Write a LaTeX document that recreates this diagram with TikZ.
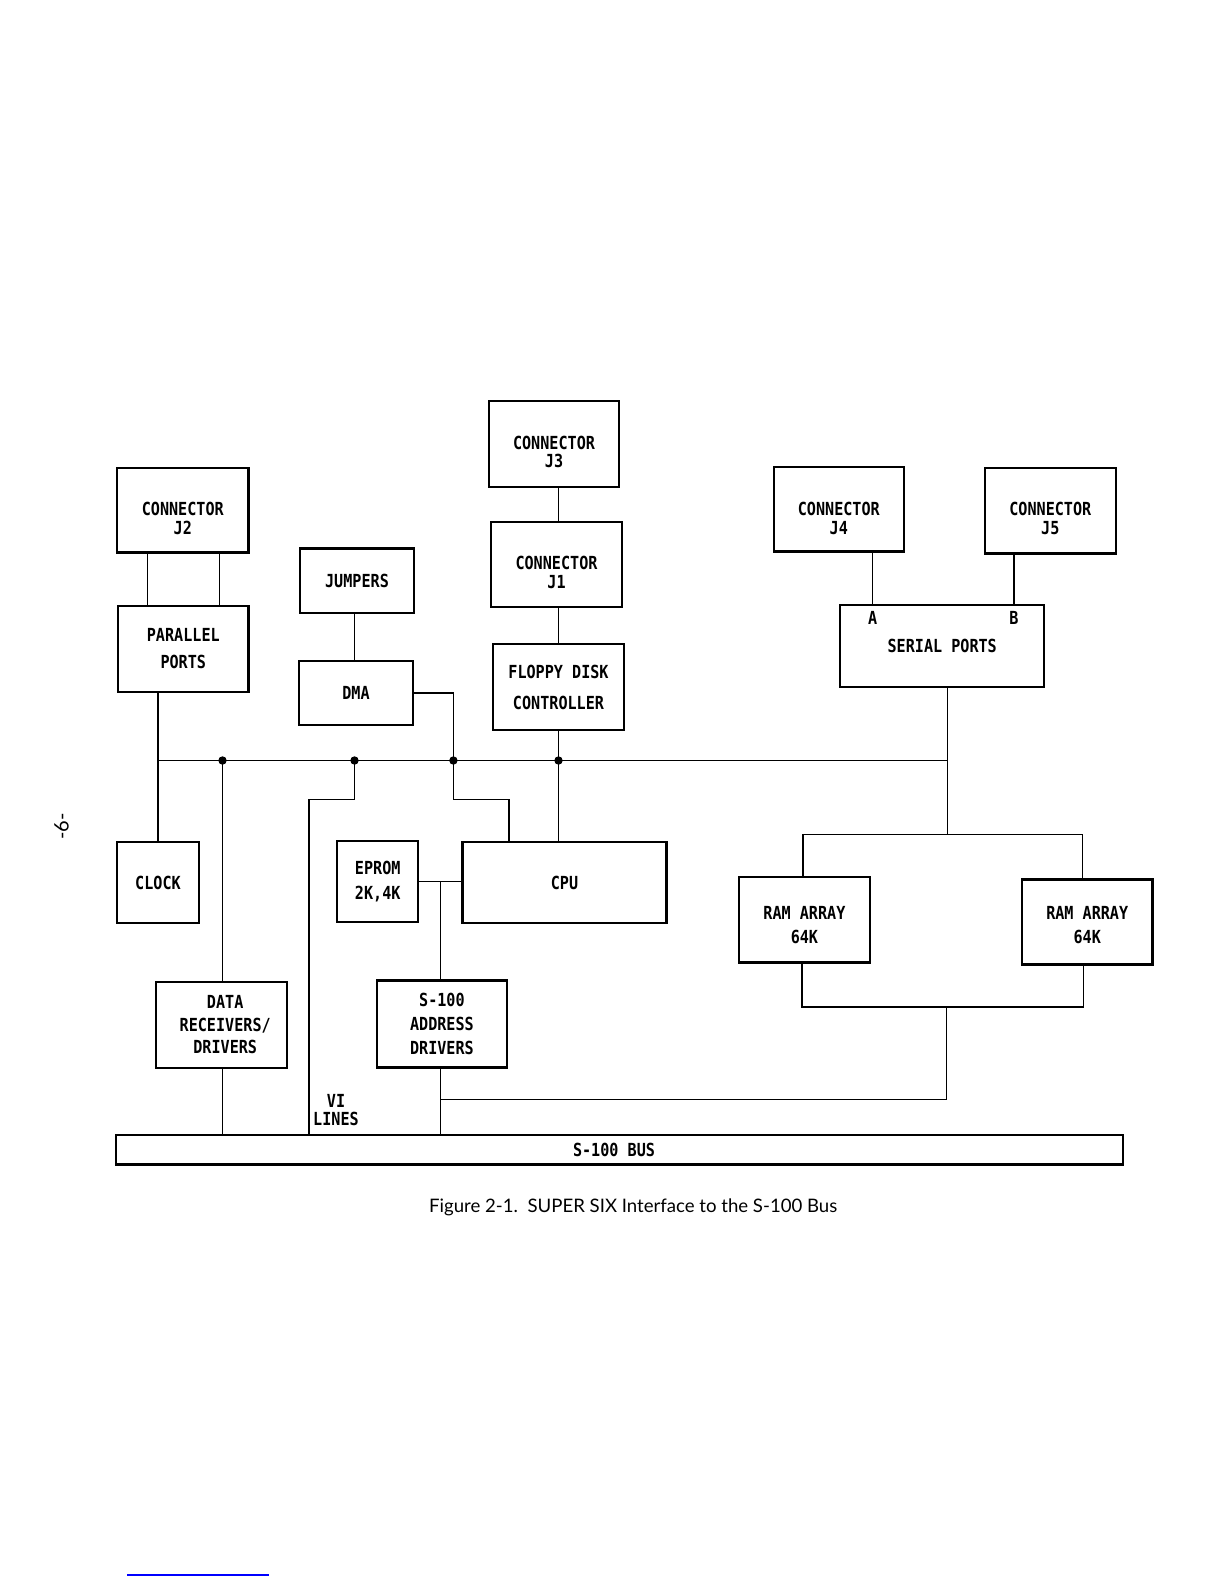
\documentclass[tikz,border=0pt]{standalone}
\usepackage{fontspec}
\setmainfont{Lato}
\newfontfamily\lett[FakeStretch=0.84]{DejaVu Sans Mono Bold}
\newfontfamily\capfont{Lato}
\newcommand\lowr[1]{\rule{0pt}{#1}}
\begin{document}
\begin{tikzpicture}[x=0.5pt,y=-0.5pt,
  box/.style={draw, line width=1.1pt, inner sep=0pt, align=center,
    font=\lett\fontsize{9}{9.4}\selectfont},
  wire/.style={line width=0.6pt},
  lbl/.style={inner sep=0pt, align=center, font=\lett\fontsize{9}{9.1}\selectfont}]

\useasboundingbox[fill=white] (0,0) rectangle (1224,1584);

% ---------- boxes ----------
\node[box, minimum width=65.2pt, minimum height=43pt]   (j3)  at (554,443.9)   {\lowr{14.8pt}CONNECTOR\\J3};
\node[box, minimum width=65.6pt, minimum height=42.4pt] (j2)  at (182.8,510)   {\lowr{14.8pt}CONNECTOR\\J2};
\node[box, minimum width=65.6pt, minimum height=42.4pt] (j1)  at (556.5,564.5) {\lowr{14.8pt}CONNECTOR\\J1};
\node[box, minimum width=57.1pt, minimum height=32.3pt] (jmp) at (357,580.7)   {JUMPERS};
\node[box, minimum width=65.1pt, minimum height=43pt]   (par) at (183.3,648.9) {PARALLEL\\[4.25pt]PORTS};
\node[box, minimum width=57pt,   minimum height=32pt]   (dma) at (356,693)     {DMA};
\node[box, minimum width=65.6pt, minimum height=43pt]   (fdc) at (558.5,687.3) {FLOPPY DISK\\[6.25pt]CONTROLLER};
\node[box, minimum width=65.2pt, minimum height=42.4pt] (j4)  at (838.8,509)   {\lowr{15.8pt}CONNECTOR\\J4};
\node[box, minimum width=65.6pt, minimum height=42.9pt] (j5)  at (1050.3,510.5){\lowr{14.8pt}CONNECTOR\\J5};
\node[box, minimum width=102pt,  minimum height=40.9pt] (ser) at (942.2,645.8) {SERIAL PORTS};
\node[box, minimum width=40.9pt, minimum height=40.4pt] (clk) at (158,882.7)   {CLOCK};
\node[box, minimum width=40.4pt, minimum height=40.4pt] (epr) at (377.7,881.6) {EPROM\\[3.2pt]2K,4K};
\node[box, minimum width=102pt,  minimum height=40.4pt] (cpu) at (564.5,882.7) {CPU};
\node[box, minimum width=65.2pt, minimum height=42.9pt] (ram1) at (804.4,919.5) {\lowr{12.3pt}RAM ARRAY\\[2.7pt]64K};
\node[box, minimum width=65.2pt, minimum height=42.5pt] (ram2) at (1087.2,922)  {\lowr{9.8pt}RAM ARRAY\\[2.7pt]64K};
\node[box, minimum width=65.6pt, minimum height=43pt]   (data) at (221.2,1024.6)
  {\hspace*{4pt}DATA\\[1.7pt]\hspace*{4pt}RECEIVERS/\\[1.7pt]\hspace*{4pt}DRIVERS};
\node[box, minimum width=65.2pt, minimum height=43.5pt] (addr) at (441.9,1024)   {S-100\\[2.7pt]ADDRESS\\[2.7pt]DRIVERS};
\node[box, minimum width=503.4pt, minimum height=14.6pt] (bus) at (619.6,1149.8) {S-100 BUS\hspace*{5.6pt}};

% ---------- junction coordinates ----------
\coordinate (d1) at (222.5,760.5);
\coordinate (d2) at (354.5,760.5);
\coordinate (d3) at (453.4,760.5);
\coordinate (d4) at (558.5,760.5);
\coordinate (bR) at (947.3,760.5);
\coordinate (bL) at (clk.north |- d1);
\coordinate (p1) at (147.4,0);
\coordinate (p2) at (219.1,0);
\coordinate (sa) at (872.6,618);
\coordinate (sb) at (1013.9,618);
\coordinate (vi1) at (309,799.8);
\coordinate (cpuin) at (509,799.8);
\coordinate (rsplit) at (947.3,834.2);
\coordinate (r1t) at (802.9,834.2);
\coordinate (r2t) at (1082.6,834.2);
\coordinate (r1b) at (801.9,1006.9);
\coordinate (r2b) at (1083.6,1006.9);
\coordinate (rj) at (946.3,1006.9);
\coordinate (rl) at (946.3,1099.8);
\coordinate (ej) at (440.3,881.6);
\coordinate (al) at (440.3,1099.8);

% ---------- connectors ----------
\draw[wire] (j2.south -| p1) -- (par.north -| p1);
\draw[wire] (j2.south -| p2) -- (par.north -| p2);
\draw[wire] (par.south -| clk.north) -- (clk.north);
\draw[wire] (bL) -- (bR);
\draw[wire] (d1) -- (data.north -| d1);
\draw[wire] (data.south -| d1) -- (bus.north -| d1);
\draw[wire] (jmp.south -| d2) -- (dma.north -| d2);
\draw[wire] (d2) |- (vi1) -- (vi1 |- bus.north);
\draw[wire] (dma.east) -| (d3) |- (cpuin) -- (cpuin |- cpu.north);
\draw[wire] (j3.south -| d4) -- (j1.north -| d4);
\draw[wire] (j1.south -| d4) -- (fdc.north -| d4);
\draw[wire] (fdc.south -| d4) -- (cpu.north -| d4);
\draw[wire] (j4.south -| sa) -- (ser.north -| sa);
\draw[wire] (j5.south -| sb) -- (ser.north -| sb);
\draw[wire] (ser.south -| bR) -- (rsplit);
\draw[wire] (ram1.north -| r1t) -- (r1t) -- (r2t) -- (ram2.north -| r2t);
\draw[wire] (ram1.south -| r1b) -- (r1b) -- (r2b) -- (ram2.south -| r2b);
\draw[wire] (rj) -- (rl) -- (al);
\draw[wire] (epr.east |- ej) -- (cpu.west |- ej);
\draw[wire] (ej) -- (addr.north -| ej);
\draw[wire] (addr.south -| ej) -- (bus.north -| ej);

\foreach \p in {d1,d2,d3,d4} \fill (\p) circle[radius=2.1pt];

% ---------- labels ----------
\node[lbl] (la) at (sa) {A};
\node[lbl] (lb) at (sb) {B};
\node[lbl] (vi) at (336,1110) {VI\\LINES};
\node[inner sep=0pt, font=\capfont\fontsize{9.3}{11}\selectfont] (cap) at (633.2,1207)
  {Figure 2-1.\ \ SUPER SIX Interface to the S-100 Bus};
\node[inner sep=0pt, rotate=90, font=\capfont\fontsize{10}{12}\selectfont] (pg) at (61.5,826.5) {-6-};

\draw[blue, line width=0.6pt] (127,1575) -- (269,1575);
\end{tikzpicture}
\end{document}
